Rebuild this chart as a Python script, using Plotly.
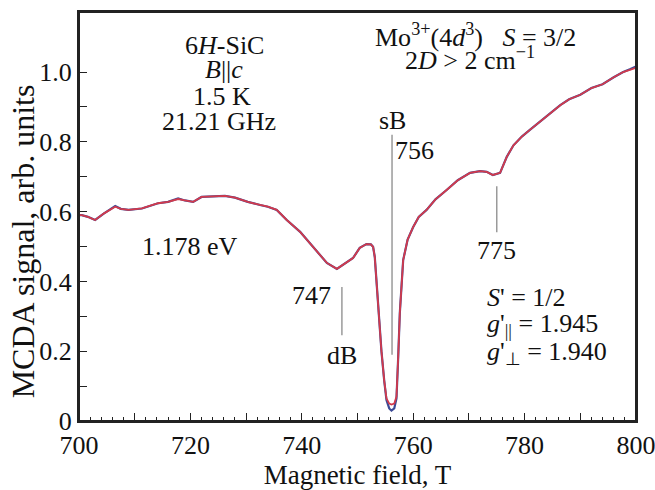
import plotly.graph_objects as go

# Magnetic field (T) and MCDA signal
field = [700, 700.5, 701.6, 702.9, 704.5, 706.5, 707.5, 708.9, 711.3, 714.2, 716, 717.8, 719, 720.5,
         722, 724, 726.2, 728, 730.3, 732.5, 733.9, 735.5, 737.3, 739.7, 742, 744.5, 746.3, 747.4,
         749.2, 750.4, 751.6, 752.4, 752.8, 753.1, 753.4, 753.8, 754.3, 754.8, 755.2, 755.7, 756.1,
         756.6, 757.0, 757.3, 757.6, 758.2, 759, 760, 761, 762.4, 764, 766, 768, 770.2, 772, 773.2,
         774.3, 775.6, 776.8, 778, 779.5, 781, 783, 785, 786.4, 788, 790, 792, 794, 796, 797.7,
         798.9, 800]
signal_red = [0.590, 0.590, 0.585, 0.576, 0.595, 0.614, 0.608, 0.605, 0.609, 0.624, 0.628, 0.636, 0.632,
              0.628, 0.642, 0.643, 0.645, 0.640, 0.628, 0.619, 0.614, 0.605, 0.576, 0.542, 0.499, 0.453,
              0.436, 0.447, 0.467, 0.496, 0.507, 0.506, 0.499, 0.470, 0.404, 0.300, 0.200, 0.115, 0.065,
              0.050, 0.047, 0.050, 0.070, 0.180, 0.310, 0.461, 0.520, 0.556, 0.585, 0.605, 0.635, 0.662,
              0.690, 0.711, 0.716, 0.714, 0.705, 0.711, 0.757, 0.790, 0.815, 0.835, 0.860, 0.885, 0.905,
              0.922, 0.935, 0.954, 0.965, 0.985, 1.000, 1.006, 1.012]
signal_blue = [0.590, 0.590, 0.585, 0.576, 0.595, 0.616, 0.608, 0.605, 0.609, 0.624, 0.628, 0.638, 0.632,
               0.628, 0.642, 0.643, 0.645, 0.640, 0.628, 0.619, 0.614, 0.605, 0.576, 0.542, 0.499, 0.453,
               0.436, 0.447, 0.467, 0.496, 0.507, 0.506, 0.499, 0.470, 0.404, 0.300, 0.200, 0.115, 0.060,
               0.036, 0.030, 0.036, 0.065, 0.180, 0.310, 0.461, 0.520, 0.556, 0.585, 0.605, 0.635, 0.662,
               0.690, 0.711, 0.716, 0.714, 0.705, 0.711, 0.757, 0.790, 0.815, 0.835, 0.860, 0.885, 0.905,
               0.922, 0.935, 0.954, 0.965, 0.985, 1.000, 1.008, 1.016]

x_tickvals = [700, 710, 720, 730, 740, 750, 760, 770, 780, 790, 800]
x_ticktext = ["700", "", "720", "", "740", "", "760", "", "780", "", "800"]
y_tickvals = [0, 0.1, 0.2, 0.3, 0.4, 0.5, 0.6, 0.7, 0.8, 0.9, 1.0]
y_ticktext = ["0", "", "0.2", "", "0.4", "", "0.6", "", "0.8", "", "1.0"]

# marker lines: (x, y_start, y_end)
marker_lines = [(747.2, 0.384, 0.246), (756.2, 0.82, 0.19), (775.0, 0.673, 0.541)]

FONT = "Liberation Serif"
ASZ = 26

fig = go.Figure()
fig.add_trace(go.Scatter(x=field, y=signal_blue, mode="lines",
                         line=dict(color="#3b4a96", width=2.2), showlegend=False))
fig.add_trace(go.Scatter(x=field, y=signal_red, mode="lines",
                         line=dict(color="#d23a4c", width=1.8), showlegend=False))

for mx, y0, y1 in marker_lines:
    fig.add_shape(type="line", xref="x", yref="y", x0=mx, x1=mx, y0=y0, y1=y1,
                  line=dict(color="#9a9a9a", width=1.5))

# plot frame
fig.add_shape(type="rect", xref="paper", yref="paper", x0=0, x1=1, y0=0, y1=1,
              line=dict(color="#222", width=2), fillcolor="rgba(0,0,0,0)", layer="above")

def ann(text, x, y, xanchor="center"):
    fig.add_annotation(text=text, x=x, y=y, xref="x", yref="y", showarrow=False,
                       xanchor=xanchor, yanchor="middle",
                       font=dict(family=FONT, size=ASZ, color="#111"))

ann("6<i>H</i>-SiC", 726.2, 1.077)
ann("<i>B</i>||<i>c</i>", 726.0, 1.006)
ann("1.5 K", 725.6, 0.931)
ann("21.21 GHz", 725.1, 0.857)
ann("Mo<sup>3+</sup>(4<i>d</i><sup>3</sup>)   <i>S</i> = 3/2", 771.2, 1.106)
ann("2<i>D</i> > 2 cm<sup>−1</sup>", 770.2, 1.04)
ann("1.178 eV", 719.9, 0.499)
ann("747", 741.8, 0.361)
ann("dB", 747.2, 0.189)
ann("sB", 756.2, 0.862)
ann("756", 760.3, 0.776)
ann("775", 775.0, 0.49)
ann("<i>S</i>' = 1/2", 772.9, 0.355, "left")
ann("<i>g</i>'<sub>||</sub> = 1.945", 772.9, 0.275, "left")
ann("<i>g</i>'<sub>⊥</sub> = 1.940", 772.9, 0.195, "left")

# y-axis title as rotated annotation (placed like the reference)
fig.add_annotation(text="MCDA signal, arb. units", xref="paper", yref="paper",
                   x=-0.1, y=0.44, textangle=-90, showarrow=False,
                   xanchor="center", yanchor="middle",
                   font=dict(family=FONT, size=32, color="#111"))

fig.update_layout(
    width=655, height=490,
    margin=dict(l=79, r=19, t=12, b=69),
    paper_bgcolor="white", plot_bgcolor="white",
    font=dict(family=FONT, size=26, color="#111"),
    showlegend=False,
)
fig.update_xaxes(range=[700, 800], tickvals=x_tickvals, ticktext=x_ticktext,
                 ticks="inside", ticklen=8, tickwidth=1.2, tickcolor="#222",
                 minor=dict(dtick=2, ticks="inside", ticklen=4, tickcolor="#222", tickwidth=1),
                 showline=True, linecolor="#222", linewidth=2, mirror=True,
                 showgrid=False, zeroline=False, automargin=False,
                 ticklabeloverflow="allow",
                 title=dict(text="Magnetic field, T", standoff=0, font=dict(size=27)),
                 tickfont=dict(size=26))
fig.update_yaxes(range=[0, 1.172], tickvals=y_tickvals, ticktext=y_ticktext,
                 ticks="inside", ticklen=8, tickwidth=1.2, tickcolor="#222",
                 showline=True, linecolor="#222", linewidth=2, mirror=True,
                 showgrid=False, zeroline=False, automargin=False,
                 ticklabeloverflow="allow",
                 tickfont=dict(size=26))

fig.write_html("out.html")
